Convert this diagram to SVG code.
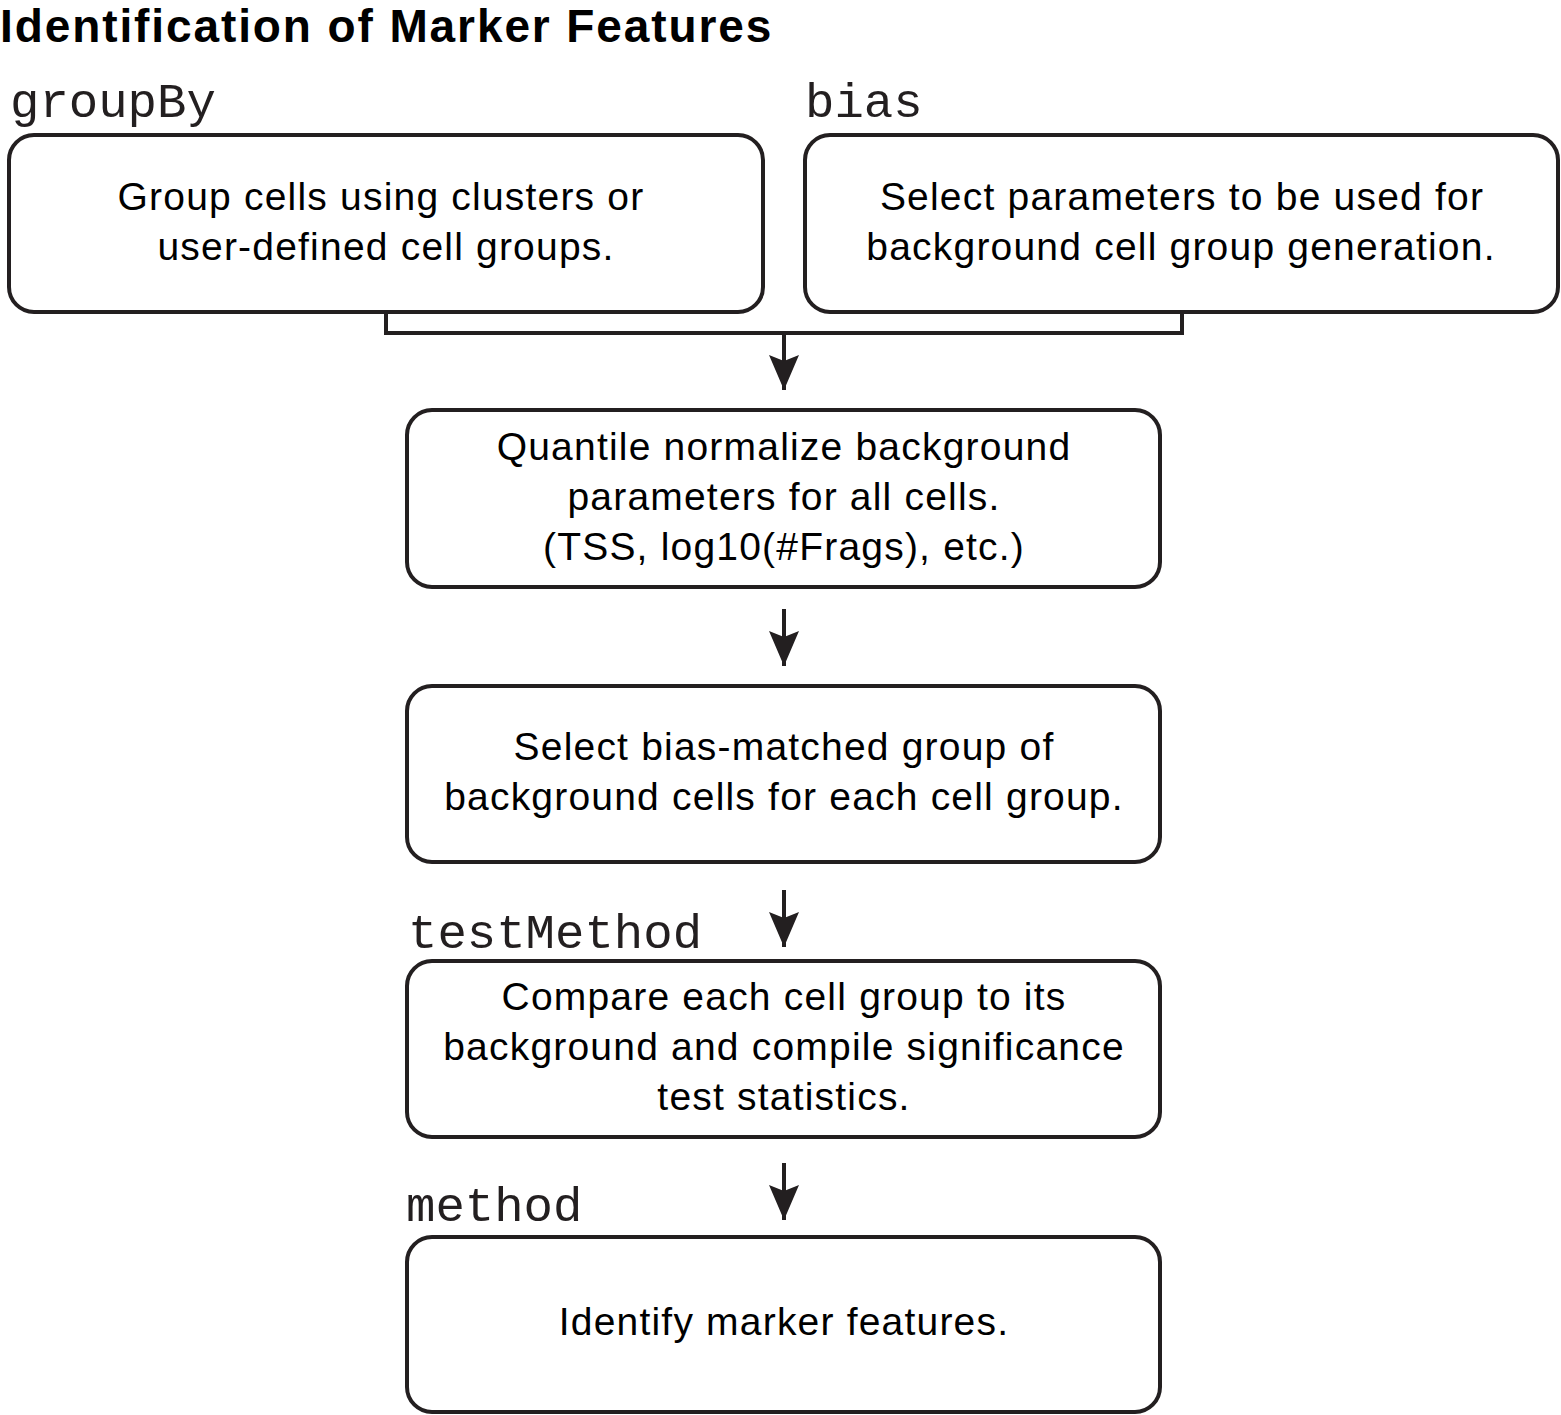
<svg xmlns="http://www.w3.org/2000/svg" width="1561" height="1415" viewBox="0 0 1561 1415">
<defs>
<style>
.box{fill:#fff;stroke:#231f20;stroke-width:4}
.t{font-family:"Liberation Sans",Arial,sans-serif;font-size:39px;letter-spacing:1.2px;fill:#000;text-anchor:middle}
.m{font-family:"Liberation Mono","Courier New",monospace;font-size:49px;fill:#231f20}
.title{font-family:"Liberation Sans",Arial,sans-serif;font-size:46px;letter-spacing:1.9px;font-weight:bold;fill:#000}
.c{fill:none;stroke:#231f20;stroke-width:4}
</style>
<marker id="ah" markerUnits="userSpaceOnUse" markerWidth="40" markerHeight="40" viewBox="0 0 40 40" refX="35" refY="20" orient="auto">
<path d="M0,5 L35,20 L0,35 L6,20 Z" fill="#231f20"/>
</marker>
</defs>
<rect width="1561" height="1415" fill="#fff"/>
<text class="title" x="0" y="42">Identification of Marker Features</text>
<g id="connectors">
<path class="c" d="M386,312 V333 H1182 V312"/>
<path class="c" d="M784,333 V390" marker-end="url(#ah)"/>
<path class="c" d="M784,609 V666" marker-end="url(#ah)"/>
<path class="c" d="M784,890 V947" marker-end="url(#ah)"/>
<path class="c" d="M784,1163 V1220" marker-end="url(#ah)"/>
</g>
<g id="groupBy">
<text class="m" x="10" y="117">groupBy</text>
<rect class="box" x="9" y="135" width="754" height="177" rx="25"/>
<text class="t" x="381" y="210">Group cells using clusters or</text>
<text class="t" x="386" y="260">user-defined cell groups.</text>
</g>
<g id="bias">
<text class="m" x="805" y="117">bias</text>
<rect class="box" x="805" y="135" width="753" height="177" rx="25"/>
<text class="t" x="1182" y="210">Select parameters to be used for</text>
<text class="t" x="1181" y="260">background cell group generation.</text>
</g>
<g id="normalize">
<rect class="box" x="407" y="410" width="753" height="177" rx="25"/>
<text class="t" x="784" y="460">Quantile normalize background</text>
<text class="t" x="784" y="510">parameters for all cells.</text>
<text class="t" x="784" y="560">(TSS, log10(#Frags), etc.)</text>
</g>
<g id="select">
<rect class="box" x="407" y="686" width="753" height="176" rx="25"/>
<text class="t" x="784" y="760">Select bias-matched group of</text>
<text class="t" x="784" y="810">background cells for each cell group.</text>
</g>
<g id="testMethod">
<text class="m" x="408" y="948">testMethod</text>
<rect class="box" x="407" y="961" width="753" height="176" rx="25"/>
<text class="t" x="784" y="1010">Compare each cell group to its</text>
<text class="t" x="784" y="1060">background and compile significance</text>
<text class="t" x="784" y="1110">test statistics.</text>
</g>
<g id="method">
<text class="m" x="406" y="1221">method</text>
<rect class="box" x="407" y="1237" width="753" height="175" rx="25"/>
<text class="t" x="784" y="1335">Identify marker features.</text>
</g>
</svg>
